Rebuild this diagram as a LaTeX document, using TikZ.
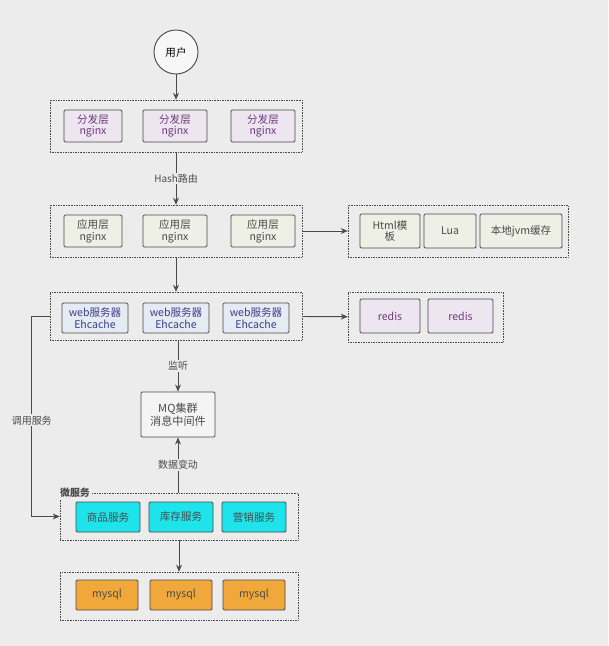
\documentclass[tikz,border=0pt]{standalone}
\usepackage{fontspec}
\setmainfont{Noto Sans CJK SC}
\usetikzlibrary{arrows.meta}
\definecolor{bgc}{HTML}{ECECEC}
\definecolor{linec}{HTML}{4A4A4A}
\definecolor{dispf}{HTML}{EDE6F0}
\definecolor{dispt}{HTML}{6A3A7A}
\definecolor{appf}{HTML}{EEF0E6}
\definecolor{webf}{HTML}{E6EAF2}
\definecolor{webt}{HTML}{3A3F8A}
\definecolor{cyanf}{HTML}{1CE4EA}
\definecolor{orgf}{HTML}{F0A83A}
\def\u{0.03cm}
\tikzset{
  group/.style={draw=linec, densely dotted, inner sep=0pt},
  box/.style={draw=linec, rounded corners=1pt, thick, align=center, inner sep=1pt,
    font=\fontsize{9}{10}\selectfont, text=linec},
  arr/.style={-{Stealth[length=6pt,width=5pt]}, linec, thick},
  lbl/.style={fill=bgc, font=\fontsize{8.5}{10}\selectfont, text=linec, inner sep=1pt}
}
\begin{document}
\begin{tikzpicture}[x=\u, y=-\u]
        % Background
        \fill[bgc] (0,0) rectangle (608,646);

        % User
        \node[draw=linec, thick, circle, minimum size=44*\u, fill=white!60!bgc,
              font=\fontsize{9}{10}\selectfont] (user) at (176,52) {用户};

        % Dispatch layer
        \node[group, minimum width=252*\u, minimum height=52*\u] (disp) at (176,126) {};
        \foreach \x/\w [count=\i] in {93/58, 175/64, 263/64}
            \node[box, fill=dispf, text=dispt, minimum width=\w*\u, minimum height=32*\u]
                (d\i) at (\x,126) {分发层\\nginx};

        % Application layer
        \node[group, minimum width=252*\u, minimum height=52*\u] (app) at (176,231) {};
        \foreach \x/\w [count=\i] in {93/58, 175/64, 263/64}
            \node[box, fill=appf, minimum width=\w*\u, minimum height=32*\u]
                (a\i) at (\x,231) {应用层\\nginx};

        % Template / Lua / cache
        \node[group, minimum width=220*\u, minimum height=52*\u] (tpl) at (458,231) {};
        \node[box, fill=appf, minimum width=60*\u, minimum height=34*\u] (t1) at (390,231) {Html模\\板};
        \node[box, fill=appf, minimum width=52*\u, minimum height=34*\u] (t2) at (450,231) {Lua};
        \node[box, fill=appf, minimum width=82*\u, minimum height=34*\u] (t3) at (521,231) {本地jvm缓存};

        % Web servers
        \node[group, minimum width=252*\u, minimum height=48*\u] (web) at (176,316) {};
        \foreach \x [count=\i] in {95, 176, 256}
            \node[box, fill=webf, text=webt, minimum width=66*\u, minimum height=30*\u]
                (w\i) at (\x,318) {web服务器\\Ehcache};

        % Redis
        \node[group, minimum width=155*\u, minimum height=50*\u] (red) at (425.5,317) {};
        \node[box, fill=dispf, text=dispt, minimum width=60*\u, minimum height=34*\u] (r1) at (390,316) {redis};
        \node[box, fill=dispf, text=dispt, minimum width=65*\u, minimum height=34*\u] (r2) at (460.5,316) {redis};

        % MQ
        \node[box, fill=white!40!bgc, minimum width=74*\u, minimum height=45*\u,
              font=\fontsize{9.5}{11}\selectfont] (mq) at (178,414.5) {MQ集群\\消息中间件};

        % Micro services
        \node[group, minimum width=238*\u, minimum height=47*\u] (micro) at (179,516.5) {};
        \node[font=\bfseries\fontsize{8.5}{10}\selectfont, text=linec, fill=bgc, inner sep=1pt]
            (mlbl) at (75,493) {微服务};
        \foreach \x/\t [count=\i] in {108/商品服务, 181/库存服务, 254/营销服务}
            \node[box, fill=cyanf, minimum width=64*\u, minimum height=30*\u]
                (m\i) at (\x,517) {\t};

        % MySQL
        \node[group, minimum width=238*\u, minimum height=48*\u] (db) at (179,596) {};
        \foreach \x [count=\i] in {107, 181, 254}
            \node[box, fill=orgf, minimum width=62*\u, minimum height=30*\u]
                (s\i) at (\x,595) {mysql};

        % Connectors
        \draw[arr] (user) -- (disp);
        \draw[arr] (disp) -- node[lbl] {Hash路由} (app);
        \draw[arr] (app) -- (tpl);
        \draw[arr] (app) -- (web);
        \draw[arr] (web) -- (red);
        \draw[arr] (web.south -| mq) -- node[lbl] {监听} (mq);
        \draw[arr] (micro.north -| mq) -- node[lbl] {数据变动} (mq);
        \draw[arr] (micro) -- (db);
        \draw[arr] (web.west) -- ++(-18,0) |- node[lbl, pos=0.26] {调用服务} (micro.west);
\end{tikzpicture}
\end{document}
